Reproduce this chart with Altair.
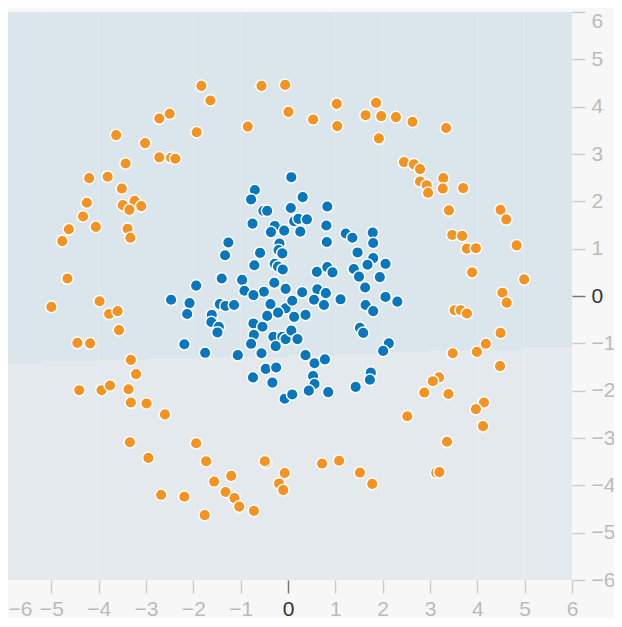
import altair as alt
import pandas as pd

orange_x = [-1.83, -1.64, -0.56, -0.06, 0.01, -0.85, -1.93, -2.50, -2.72, -3.63, -3.02, -2.72, -2.47, -2.38,
            -3.43, -4.20, -3.81, -3.51, -4.25, -3.49, -3.24, -3.10, -3.35, -4.33, -4.06, -4.63, -4.77, -3.39,
            -3.33, -4.66, -3.98, 0.53, 1.03, 1.04, 1.86, 1.64, 1.97, 2.28, 2.63, 3.34, 1.92, 2.45, 2.66, 2.79,
            2.79, 2.93, 2.96, 3.28, 3.27, 3.70, 3.40, 4.49, 4.61, 3.47, 3.68, 3.78, 3.97, 4.83, 3.89, 4.99,
            4.53, 4.62, -5.00, -3.78, -3.60, -3.57, -4.45, -4.18, -3.32, -3.21, -4.41, -3.94, -3.76, -3.37,
            -3.32, -2.99, -2.60, -3.34, -2.95, -1.94, -1.73, -1.20, -1.56, -1.32, -1.13, -1.03, -2.68, -2.19,
            -1.76, -0.72, -0.46, -0.49, -0.07, -0.19, -0.10, 3.52, 3.65, 3.78, 4.49, 4.18, 3.99, 3.48, 4.48,
            3.19, 3.06, 2.88, 3.39, 4.14, 3.97, 4.12, 2.52, 3.36, 3.13, 3.20, 0.72, 1.08, 1.52, 1.78]
orange_y = [4.44, 4.13, 4.44, 4.46, 3.89, 3.58, 3.46, 3.85, 3.75, 3.40, 3.23, 2.93, 2.92, 2.90,
            2.80, 2.49, 2.52, 2.27, 1.97, 1.92, 2.01, 1.90, 1.82, 1.68, 1.46, 1.41, 1.16, 1.42,
            1.23, 0.37, -0.11, 3.73, 4.06, 3.59, 4.08, 3.82, 3.80, 3.78, 3.68, 3.55, 3.33, 2.83, 2.78, 2.68,
            2.42, 2.34, 2.18, 2.49, 2.27, 2.28, 1.81, 1.82, 1.62, 1.29, 1.27, 1.00, 1.01, 1.07, 0.50, 0.35,
            0.07, -0.14, -0.23, -0.38, -0.32, -0.72, -0.99, -1.00, -1.35, -1.65, -1.99, -1.99, -1.89, -1.97,
            -2.25, -2.27, -2.50, -3.09, -3.42, -3.11, -3.49, -3.80, -3.92, -4.14, -4.27, -4.45, -4.20, -4.24,
            -4.63, -4.54, -3.52, -3.49, -3.74, -3.96, -4.10, -0.30, -0.30, -0.37, -0.78, -1.01, -1.18, -1.21, -1.48,
            -1.72, -1.80, -2.04, -2.07, -2.25, -2.39, -2.75, -2.54, -3.08, -3.73, -3.72, -3.54, -3.48, -3.73, -3.97]

blue_x = [0.07, -0.70, -0.78, 0.06, -0.52, -0.44, -0.75, -0.28, -0.36, -0.08, 0.13, -1.26, -1.33, -0.59,
          -0.18, -0.20, -0.12, -0.71, -0.28, -0.21, -0.11, -1.40, -0.97, -1.94, -0.92, -0.51, -0.29, -0.05,
          -2.47, 0.31, 0.83, 0.22, 0.40, 0.26, 0.81, 0.82, 1.22, 1.36, 1.79, 1.80, 1.47, 1.80, 2.06, 1.68,
          1.39, 1.50, 0.61, 0.83, 0.94, 1.94, 1.63, 0.62, 0.30, 0.80, 1.11, 2.06, 2.31, -2.08, -2.13, -1.61,
          -1.62, -1.46, -1.49, -1.44, -1.32, -1.14, -0.73, -0.37, -0.05, 0.09, -0.44, -0.21, -0.73, -0.54,
          -0.72, -0.78, -0.31, -0.12, -0.26, -0.05, 0.07, -2.19, -1.75, -1.06, -0.56, -0.47, -0.25, -0.74,
          -0.33, -0.07, 0.09, 0.13, 0.37, 0.55, 0.76, 1.64, 1.80, 0.20, 1.52, 1.59, 2.13, 2.01, 0.37, 0.56,
          0.78, 0.53, 0.56, 0.44, 0.85, 1.43, 1.75, 1.73]
blue_y = [2.51, 2.24, 2.04, 1.86, 1.80, 1.80, 1.53, 1.48, 1.35, 1.38, 1.58, 1.13, 0.86, 0.91,
          1.11, 0.97, 0.90, 0.65, 0.68, 0.62, 0.56, 0.37, 0.34, 0.22, 0.11, 0.09, 0.28, 0.15,
          -0.08, 2.09, 1.89, 1.63, 1.62, 1.36, 1.49, 1.14, 1.32, 1.23, 1.34, 1.12, 0.92, 0.80, 0.68, 0.66,
          0.57, 0.41, 0.51, 0.61, 0.50, 0.40, 0.18, 0.14, 0.08, 0.06, -0.07, -0.02, -0.12, -0.15, -0.38, -0.40,
          -0.55, -0.65, -0.77, -0.17, -0.21, -0.19, 0.02, -0.17, -0.26, -0.10, -0.42, -0.35, -0.58, -0.65,
          -0.82, -1.01, -0.86, -0.86, -1.06, -0.91, -0.73, -1.02, -1.20, -1.25, -1.21, -1.54, -1.51, -1.72,
          -1.83, -2.17, -2.08, -0.44, -0.40, -0.08, -0.19, -0.19, -0.32, -0.91, -0.67, -0.78, -1.00, -1.16, -1.25, -1.42,
          -1.34, -1.69, -1.86, -2.00, -2.03, -1.92, -1.62, -1.77]

# background decision regions: column start, column end, boundary height
col_start = [-6, -5.2, -4, -3, -2, -1, 0, 1, 2, 3, 4, 5]
col_end = [-5.2, -4, -3, -2, -1, 0, 1, 2, 3, 4, 5, 6]
boundary = [-1.45, -1.38, -1.36, -1.34, -1.32, -1.29, -1.26, -1.23, -1.20, -1.17, -1.14, -1.11]

TOP_COLOR = "#dbe5ec"
BOTTOM_COLOR = "#e4e9ee"
ORANGE = "#f59322"
BLUE = "#0877bd"

bg_rows = []
for a, b, h in zip(col_start, col_end, boundary):
    bg_rows.append({"x0": a, "x1": b, "y0": h, "y1": 6, "region": "top"})
    bg_rows.append({"x0": a, "x1": b, "y0": -6, "y1": h, "region": "bottom"})
bg = pd.DataFrame(bg_rows)

pts = pd.DataFrame(
    {"x": orange_x + blue_x, "y": orange_y + blue_y,
     "label": ["neg"] * len(orange_x) + ["pos"] * len(blue_x)}
)

lab_color = {"condition": {"test": "datum.value == 0", "value": "#333333"}, "value": "#bbbbbb"}
tick_color = {"condition": {"test": "datum.value == 0", "value": "#777777"}, "value": "#cccccc"}

xscale = alt.Scale(domain=[-6, 6], nice=False, zero=False)
yscale = alt.Scale(domain=[-6, 6], nice=False, zero=False)

xaxis = alt.Axis(orient="bottom", values=list(range(-6, 7)), grid=False, domain=False, tickSize=13,
                 tickWidth=1.5, labelPadding=5, labelFontSize=21, labelFont="Liberation Sans",
                 labelColor=lab_color, tickColor=tick_color, title=None, labelOverlap=False,
                 labelFlush=False,
                 labelAlign={"condition": {"test": "datum.value == -6", "value": "left"}, "value": "center"},
                 labelOffset={"condition": {"test": "datum.value == -6", "value": 4}, "value": 0})
yaxis = alt.Axis(orient="right", values=list(range(-6, 7)), grid=False, domain=False, tickSize=13,
                 tickWidth=1.5, labelPadding=6, labelFontSize=21, labelFont="Liberation Sans",
                 labelColor=lab_color, tickColor=tick_color, title=None, labelOverlap=False,
                 labelFlush=False,
                 labelBaseline={"condition": {"test": "datum.value == 6", "value": "top"}, "value": "middle"},
                 labelOffset={"condition": {"test": "datum.value == 6", "value": -2}, "value": 0})

background = alt.Chart(bg).mark_rect(strokeWidth=0).encode(
    x=alt.X("x0:Q", scale=xscale, axis=xaxis),
    x2="x1:Q",
    y=alt.Y("y0:Q", scale=yscale, axis=yaxis),
    y2="y1:Q",
    color=alt.Color("region:N", scale=alt.Scale(domain=["top", "bottom"], range=[TOP_COLOR, BOTTOM_COLOR]),
                    legend=None),
)

points = alt.Chart(pts).mark_circle(size=135, opacity=1, stroke="white", strokeWidth=1.5).encode(
    x=alt.X("x:Q", scale=xscale),
    y=alt.Y("y:Q", scale=yscale),
    fill=alt.Fill("label:N", scale=alt.Scale(domain=["neg", "pos"], range=[ORANGE, BLUE]), legend=None),
)

chart = alt.layer(background, points).resolve_scale(color="independent").properties(
    width=568, height=568,
    autosize=alt.AutoSizeParams(type="none"),
    padding={"left": -4, "top": 4, "right": 42, "bottom": 38},
    background="#f7f7f7",
).configure_view(strokeWidth=0)

chart.save("out.html", embed_options={"renderer": "svg", "actions": False})
